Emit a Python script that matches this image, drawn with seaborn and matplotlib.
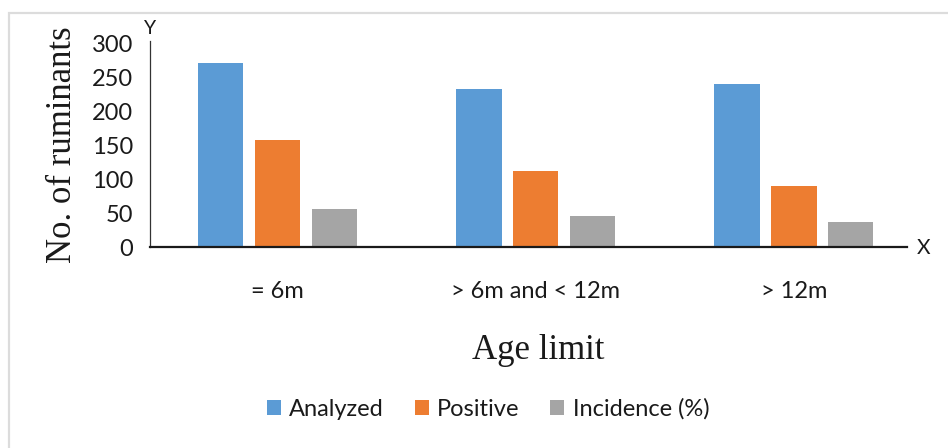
import matplotlib
matplotlib.use('Agg')
import matplotlib.pyplot as plt
import seaborn as sns
import pandas as pd
from matplotlib.patches import Rectangle

age_groups = ['= 6m', '> 6m and < 12m', '> 12m']
series = ['Analyzed', 'Positive', 'Incidence (%)']
analyzed = [272, 234, 241]
positive = [158, 113, 91]
incidence = [56, 46, 37]
colors = ['#5B9BD5', '#ED7D31', '#A5A5A5']
yticks = [0, 50, 100, 150, 200, 250, 300]

rows = []
for name, vals in zip(series, [analyzed, positive, incidence]):
    for g, v in zip(age_groups, vals):
        rows.append({'Age limit': g, 'Series': name, 'Count': v})
df = pd.DataFrame(rows)

sns.set_style('white')
plt.rcParams['font.family'] = ['Lato', 'DejaVu Sans']

fig = plt.figure(figsize=(9.48, 4.48), dpi=100)
ax = fig.add_axes([150 / 948, 1 - 247.5 / 448, (907 - 150) / 948, (247.5 - 41) / 448])

sns.barplot(data=df, x='Age limit', y='Count', hue='Series', palette=colors,
            width=0.66, gap=0.2, ax=ax, saturation=1, edgecolor='none')
handles, labels = ax.get_legend_handles_labels()
ax.get_legend().remove()

ax.set_xlim(-0.494, 2.438)
ax.set_ylim(0, 304)
ax.set_yticks(yticks)
ax.tick_params(length=0, labelsize=17, colors='#1a1a1a')
ax.tick_params(axis='y', pad=12)
ax.tick_params(axis='x', pad=24)

for s in ['top', 'right']:
    ax.spines[s].set_visible(False)
ax.spines['bottom'].set_linewidth(1.6)
ax.spines['bottom'].set_color('#1a1a1a')
ax.spines['left'].set_linewidth(0.9)
ax.spines['left'].set_color('#333333')

ax.set_ylabel('No. of ruminants', family='Liberation Serif', fontsize=25, color='#1a1a1a')
ax.yaxis.set_label_coords(-0.094, 0.5)
ax.set_xlabel('Age limit', family='Liberation Serif', fontsize=25, color='#1a1a1a')
ax.xaxis.set_label_coords(0.5125, -0.42)

fig.text(150 / 948, 1 - 28 / 448, 'Y', ha='center', va='center', fontsize=14, color='#1a1a1a')
fig.text(924 / 948, 1 - 248 / 448, 'X', ha='center', va='center', fontsize=15, color='#1a1a1a')

fig.legend(handles, labels, loc='center', bbox_to_anchor=(488 / 948, 1 - 409 / 448),
           ncol=3, frameon=False, fontsize=17, handlelength=0.6, handleheight=0.6,
           handletextpad=0.35, columnspacing=1.3, labelcolor='#1a1a1a')

fig.add_artist(Rectangle((9 / 948, -0.1), 1.2, 1.1 - 13 / 448, transform=fig.transFigure,
                         fill=False, edgecolor='#DCDCDC', linewidth=1.6))

fig.savefig('out.png', dpi=100)
